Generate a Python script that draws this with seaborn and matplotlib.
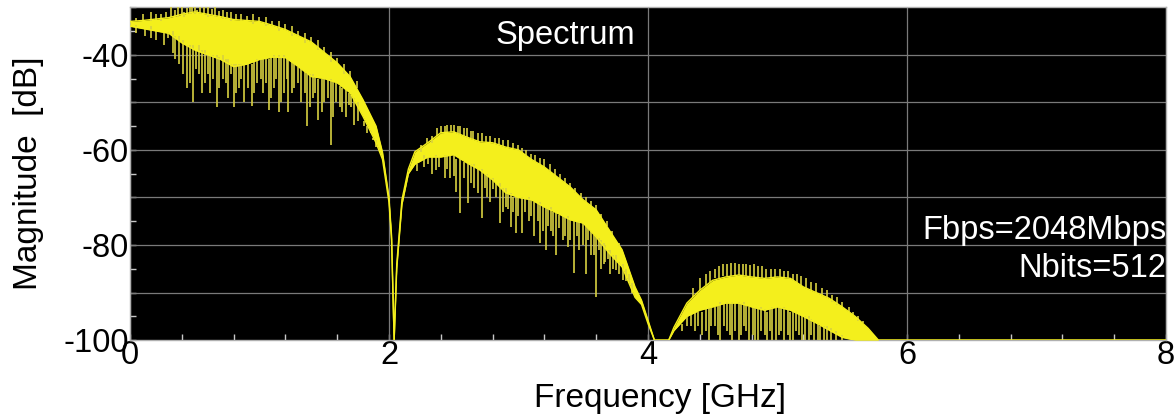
import numpy as np
import pandas as pd
import seaborn as sns
import matplotlib
matplotlib.use("Agg")
import matplotlib.pyplot as plt
from matplotlib.ticker import MultipleLocator

# ---- data (frequency in GHz, magnitude in dB) ----
band_freq = [0.0, 0.1, 0.2, 0.3, 0.4, 0.5, 0.6, 0.7, 0.8, 0.9, 1.0, 1.1, 1.2, 1.3,
             1.4, 1.5, 1.6, 1.7, 1.8, 1.9, 1.95, 2.0, 2.02, 2.04, 2.06, 2.1, 2.15,
             2.2, 2.3, 2.4, 2.5, 2.6, 2.7, 2.8, 2.9, 3.0, 3.1, 3.2, 3.3, 3.4, 3.5,
             3.6, 3.7, 3.8, 3.9, 3.95, 4.0, 4.05, 4.16, 4.2, 4.3, 4.4, 4.5, 4.6,
             4.7, 4.8, 4.9, 5.0, 5.1, 5.2, 5.3, 5.4, 5.5, 5.6, 5.7, 5.78, 8.0]
band_top = [-33.0, -32.8, -32.5, -32.2, -31.5, -31.0, -31.5, -32.0, -32.6, -32.8, -33.0,
            -33.8, -34.7, -36.0, -37.3, -39.5, -41.7, -44.6, -49.5, -55.0, -60.5, -70.0,
            -78.0, -100.0, -84.0, -70.5, -64.0, -60.4, -58.5, -56.4, -56.2, -57.3, -58.3,
            -58.5, -59.4, -60.0, -62.0, -63.6, -65.7, -67.8, -70.5, -72.6, -76.8, -81.0,
            -88.8, -91.6, -95.8, -100.0, -100.0, -97.3, -92.2, -89.5, -87.4, -86.7, -86.3,
            -86.7, -87.0, -86.7, -87.0, -88.8, -90.0, -91.2, -93.0, -95.0, -97.5, -100.0,
            -100.0]
band_bottom = [-34.0, -34.5, -35.0, -35.5, -37.5, -39.0, -40.0, -41.0, -42.5, -42.0, -41.0,
               -40.5, -40.6, -42.5, -44.6, -45.0, -45.9, -48.0, -53.0, -58.5, -62.0, -71.0,
               -79.0, -100.0, -85.0, -71.5, -65.0, -63.0, -61.5, -61.5, -61.0, -62.7, -64.2,
               -66.3, -69.0, -70.0, -70.5, -72.0, -73.3, -74.7, -75.4, -78.3, -81.7, -84.6,
               -91.0, -92.5, -96.5, -100.0, -100.0, -98.0, -95.0, -93.7, -93.0, -92.2, -92.2,
               -93.0, -93.7, -93.0, -93.7, -95.0, -96.4, -97.9, -99.4, -100.0, -100.0, -100.0,
               -100.0]

# downward spikes: frequency, deepest value, band value they leave from
dip_freq = [0.16, 0.33, 0.38, 0.46, 0.49, 0.53, 0.58, 0.62, 0.67, 0.72, 0.76, 0.80, 0.84,
            0.88, 0.94, 0.98, 1.03, 1.07, 1.11, 1.15, 1.19, 1.22, 1.27, 1.32, 1.37, 1.41,
            1.45, 1.50, 1.55, 1.59, 1.64, 1.69, 1.73, 1.76, 1.83, 1.86, 1.90,
            0.05, 0.12, 0.20, 0.26, 0.29, 0.35, 0.41, 0.44, 0.51, 0.56, 0.60, 0.64, 0.69,
            0.74, 0.78, 0.82, 0.86, 0.91, 0.96, 1.01, 1.05, 1.09, 1.13, 1.17, 1.21, 1.25,
            1.30, 1.35, 1.39, 1.43, 1.48, 1.53, 1.57, 1.62, 1.67, 1.71, 1.81, 1.88,
            2.27, 2.36, 2.43, 2.47, 2.52, 2.55, 2.61, 2.66, 2.72, 2.76, 2.80, 2.86, 2.90,
            2.94, 2.98, 3.03, 3.08, 3.12, 3.17, 3.21, 3.25, 3.29, 3.34, 3.38, 3.43, 3.47,
            3.52, 3.56, 3.60, 3.64, 3.67, 3.71, 3.75, 3.81, 3.85,
            2.22, 2.30, 2.33, 2.39, 2.45, 2.50, 2.58, 2.63, 2.69, 2.74, 2.78, 2.83, 2.88,
            2.92, 2.96, 3.00, 3.05, 3.10, 3.15, 3.19, 3.23, 3.27, 3.31, 3.36, 3.40, 3.45,
            3.50, 3.54, 3.58, 3.62, 3.66, 3.69, 3.73, 3.78, 3.83, 3.88,
            4.30, 4.36, 4.42, 4.47, 4.52, 4.56, 4.61, 4.65, 4.70, 4.74, 4.78, 4.83, 4.87,
            4.92, 4.96, 5.01, 5.05, 5.10, 5.14, 5.19, 5.24, 5.28, 5.33, 5.38, 5.45,
            4.26, 4.33, 4.39, 4.45, 4.49, 4.54, 4.59, 4.63, 4.67, 4.72, 4.76, 4.81, 4.85,
            4.90, 4.94, 4.99, 5.03, 5.08, 5.12, 5.17, 5.21, 5.26, 5.31, 5.36, 5.41, 5.50]
dip_low = [-36.5, -39.6, -42.0, -46.0, -50.0, -44.0, -46.0, -48.0, -51.0, -45.0, -49.0, -51.0,
           -47.0, -50.0, -50.7, -46.0, -48.0, -51.6, -47.0, -52.0, -48.0, -52.0, -47.0, -50.0,
           -55.0, -49.0, -53.7, -50.0, -59.0, -50.0, -52.0, -50.5, -54.7, -54.0, -56.5, -56.4,
           -59.4,
           -35.5, -36.0, -37.0, -38.0, -36.5, -41.0, -44.0, -47.0, -43.0, -48.0, -44.0, -45.0,
           -47.0, -46.0, -44.0, -48.0, -45.0, -47.0, -48.0, -45.0, -46.0, -49.0, -45.0, -50.0,
           -45.0, -48.0, -46.0, -48.0, -51.0, -48.0, -52.0, -49.0, -53.0, -51.0, -53.0, -51.0,
           -55.0, -58.0,
           -63.5, -64.2, -66.0, -66.0, -68.8, -73.3, -71.2, -68.0, -74.3, -70.0, -68.2, -75.4,
           -72.0, -76.2, -77.5, -77.5, -75.0, -78.2, -79.6, -81.0, -77.0, -82.0, -79.0, -80.5,
           -85.9, -81.0, -86.0, -82.0, -91.0, -85.0, -83.5, -86.0, -85.3, -87.4, -88.0,
           -64.5, -63.0, -65.0, -63.5, -64.0, -65.5, -66.0, -67.0, -69.0, -68.0, -71.0, -70.0,
           -73.0, -72.5, -73.0, -74.0, -73.0, -74.0, -75.0, -77.0, -76.0, -78.0, -76.5, -78.0,
           -79.0, -78.0, -80.0, -79.0, -82.0, -81.0, -84.0, -83.0, -85.0, -86.0, -87.5, -90.0,
           -97.0, -98.0, -99.0, -100.0, -97.0, -100.0, -98.0, -100.0, -100.0, -97.0, -100.0,
           -100.0, -98.0, -100.0, -100.0, -99.0, -100.0, -100.0, -98.0, -100.0, -100.0, -100.0,
           -100.0, -100.0, -100.0,
           -98.0, -97.0, -97.0, -98.0, -97.0, -99.0, -97.0, -99.0, -98.0, -99.0, -98.0, -99.0,
           -100.0, -99.0, -98.0, -100.0, -98.0, -99.0, -100.0, -99.0, -100.0, -99.0, -100.0,
           -100.0, -100.0, -100.0]
dip_from = [-34.0, -35.0, -36.0, -38.0, -38.0, -38.0, -39.0, -40.0, -40.0, -40.0, -41.0, -42.0,
            -42.0, -42.0, -42.0, -41.0, -41.0, -41.0, -40.0, -40.0, -40.0, -41.0, -42.0, -43.0,
            -44.0, -44.0, -45.0, -45.0, -45.0, -46.0, -47.0, -48.0, -49.0, -50.0, -55.0, -56.0,
            -58.0,
            -33.8, -34.5, -35.0, -35.2, -35.3, -36.0, -37.0, -38.0, -39.0, -39.0, -40.0, -40.0,
            -40.5, -41.0, -42.0, -42.0, -42.0, -42.0, -41.5, -41.0, -41.0, -40.5, -40.5, -40.5,
            -40.8, -41.5, -42.5, -43.5, -44.0, -44.8, -45.0, -45.3, -45.6, -46.5, -47.5, -48.5,
            -54.0, -57.5,
            -61.0, -61.0, -61.0, -61.0, -62.0, -62.0, -63.0, -63.0, -64.0, -65.0, -66.0, -67.0,
            -68.0, -69.0, -70.0, -70.0, -70.0, -71.0, -71.0, -72.0, -72.0, -73.0, -74.0, -74.0,
            -75.0, -75.0, -76.0, -77.0, -78.0, -79.0, -80.0, -81.0, -82.0, -84.0, -86.0,
            -63.0, -61.5, -61.5, -61.5, -61.0, -61.0, -62.5, -63.0, -64.0, -65.0, -66.0, -67.0,
            -68.0, -69.0, -70.0, -70.0, -70.3, -70.5, -71.2, -71.8, -72.3, -73.0, -73.6, -74.2,
            -74.8, -75.2, -75.4, -76.5, -77.8, -78.6, -79.5, -81.0, -82.0, -83.5, -85.0, -88.0,
            -95.0, -94.0, -94.0, -93.0, -93.0, -92.0, -92.0, -92.0, -92.0, -92.0, -93.0,
            -93.0, -93.0, -94.0, -93.0, -93.0, -93.0, -94.0, -94.0, -95.0, -95.0, -96.0,
            -97.0, -97.0, -98.0,
            -96.5, -94.5, -94.0, -93.3, -93.0, -92.8, -92.3, -92.2, -92.2, -92.2, -92.5, -93.0,
            -93.3, -93.5, -93.5, -93.0, -93.3, -93.5, -94.0, -94.5, -95.0, -95.5, -96.3,
            -97.0, -97.5, -99.0]

# upward spikes: frequency, highest value, band value they leave from
peak_freq = [0.10, 0.16, 0.24, 0.32, 0.37, 0.42, 0.46, 0.50, 0.54, 0.60, 0.66, 0.72, 0.78,
             0.86, 0.95, 1.05, 1.15, 1.25, 1.35, 1.45, 1.55, 1.65,
             0.05, 0.20, 0.28, 0.35, 0.40, 0.44, 0.48, 0.52, 0.57, 0.63, 0.69, 0.75, 0.82,
             0.90, 1.00, 1.10, 1.20, 1.30, 1.40, 1.50, 1.60, 1.70, 1.75,
             2.25, 2.33, 2.40, 2.45, 2.50, 2.55, 2.60, 2.65, 2.72, 2.78, 2.85, 2.92, 3.00,
             3.06, 3.13, 3.20, 3.28, 3.36, 3.44, 3.52, 3.60, 3.68,
             2.29, 2.37, 2.43, 2.48, 2.53, 2.58, 2.63, 2.69, 2.75, 2.82, 2.88, 2.96, 3.03,
             3.10, 3.17, 3.24, 3.32, 3.40, 3.48, 3.56, 3.64, 3.72, 3.78,
             4.35, 4.45, 4.52, 4.58, 4.64, 4.70, 4.76, 4.82, 4.88, 4.95, 5.02, 5.08, 5.15,
             5.22, 5.30, 5.38, 5.46, 5.55, 5.62,
             4.40, 4.48, 4.55, 4.61, 4.67, 4.73, 4.79, 4.85, 4.91, 4.98, 5.05, 5.12, 5.18,
             5.26, 5.34, 5.42, 5.50, 5.58, 5.66]
peak_high = [-31.5, -31.0, -31.5, -30.0, -30.0, -31.0, -30.0, -30.0, -30.0, -30.0, -30.0,
             -30.5, -31.0, -31.5, -31.5, -32.0, -33.0, -34.0, -35.5, -37.0, -39.5, -42.0,
             -32.2, -31.5, -31.0, -30.5, -30.0, -30.2, -30.0, -30.5, -30.0, -30.3, -30.8,
             -31.0, -31.5, -31.8, -32.0, -33.0, -33.5, -35.0, -36.2, -38.4, -40.6, -43.5,
             -45.5,
             -59.0, -57.0, -55.0, -54.7, -54.7, -55.0, -55.5, -56.0, -56.5, -57.0, -57.5,
             -58.0, -59.0, -60.0, -61.0, -62.0, -64.0, -66.0, -68.0, -70.0, -71.5, -75.0,
             -57.5, -55.5, -55.0, -54.8, -55.0, -55.5, -56.0, -56.5, -57.0, -57.5, -58.0,
             -58.5, -59.5, -60.8, -61.8, -63.0, -65.0, -67.0, -69.0, -70.8, -73.5, -77.0,
             -79.5,
             -89.0, -86.0, -85.0, -84.0, -83.8, -84.0, -84.0, -84.0, -84.5, -85.0, -85.0,
             -85.5, -86.0, -87.0, -88.0, -89.5, -91.0, -93.0, -95.0,
             -87.0, -85.5, -84.5, -84.0, -83.8, -84.0, -84.2, -84.5, -85.0, -85.0, -85.5,
             -86.0, -86.5, -87.8, -89.0, -90.5, -92.0, -94.0, -96.0]
peak_from = [-33.0, -33.0, -33.0, -32.0, -32.0, -32.0, -31.5, -31.5, -31.5, -32.0, -32.0,
             -32.5, -33.0, -33.0, -33.5, -34.0, -35.0, -36.0, -37.5, -39.0, -41.5, -44.0,
             -33.0, -32.6, -32.3, -32.0, -31.6, -31.5, -31.0, -31.0, -31.3, -31.7, -32.0,
             -32.4, -32.7, -32.8, -33.0, -33.8, -34.7, -36.0, -37.3, -39.5, -41.7, -44.6,
             -47.0,
             -60.5, -58.5, -56.5, -56.5, -56.5, -56.8, -57.3, -57.8, -58.3, -58.5, -59.0,
             -59.5, -60.0, -61.0, -62.5, -63.6, -65.3, -67.0, -69.0, -71.0, -72.6, -76.0,
             -58.6, -57.0, -56.4, -56.3, -56.5, -57.0, -57.6, -58.2, -58.4, -58.8, -59.2,
             -59.7, -60.6, -62.0, -63.1, -64.4, -66.1, -67.8, -69.9, -71.8, -74.5, -77.8,
             -80.2,
             -91.0, -88.5, -87.0, -86.5, -86.5, -86.3, -86.5, -86.7, -87.0, -87.0, -86.7,
             -87.0, -88.0, -89.0, -90.0, -91.0, -92.5, -94.0, -96.0,
             -89.5, -87.8, -87.0, -86.6, -86.4, -86.4, -86.6, -86.8, -87.0, -86.8, -86.8,
             -87.5, -88.4, -89.4, -90.6, -91.9, -93.0, -94.8, -96.3]

x_ticks = [0, 2, 4, 6, 8]
y_ticks = [-100, -80, -60, -40]

# ---- figure ----
sns.set_theme(style="dark")
plt.rcParams['font.family'] = ['Liberation Sans', 'DejaVu Sans']
plt.rcParams['text.color'] = 'black'
plt.rcParams['axes.labelcolor'] = 'black'

fig = plt.figure(figsize=(11.76, 4.2), dpi=100, facecolor='white')
ax = fig.add_axes([0.1105, 0.19, 0.881, 0.793])
ax.set_facecolor('black')

yellow = '#f4ef1c'
spike_col = '#d8d040'

band = pd.DataFrame({'f': band_freq, 'top': band_top, 'bottom': band_bottom})
ax.fill_between(band['f'], band['bottom'], band['top'], color=yellow, lw=0, zorder=3)
sns.lineplot(data=band, x='f', y='top', ax=ax, color=yellow, lw=1.0, zorder=4, sort=False)
sns.lineplot(data=band, x='f', y='bottom', ax=ax, color=yellow, lw=1.0, zorder=4, sort=False)

ax.vlines(dip_freq, dip_low, dip_from, color=spike_col, lw=1.2, zorder=3.5)
ax.vlines(peak_freq, peak_from, peak_high, color=spike_col, lw=1.2, zorder=3.5)

ax.set_xlim(0, 8)
ax.set_ylim(-100, -30)

ax.set_xticks(x_ticks)
ax.set_yticks(y_ticks)
ax.xaxis.set_minor_locator(MultipleLocator(0.4))
ax.yaxis.set_minor_locator(MultipleLocator(5))
ax.set_xticklabels([str(v) for v in x_ticks], fontsize=23.5)
ax.set_yticklabels([str(v) for v in y_ticks], fontsize=23.5)

# grid: vertical at labelled x ticks, horizontal every 10 dB
ax.grid(False)
for xv in x_ticks:
    ax.axvline(xv, color='#7a7a7a', lw=0.9, zorder=1)
for yv in [-90, -80, -70, -60, -50, -40]:
    ax.axhline(yv, color='#7a7a7a', lw=0.9, zorder=1)

ax.tick_params(axis='both', which='major', direction='in', length=4, width=1,
               color='#c8c8c8', labelcolor='black')
ax.tick_params(axis='both', which='minor', direction='in', length=4, width=1,
               color='#c8c8c8')
ax.tick_params(axis='y', which='major', pad=1)
ax.tick_params(axis='x', which='major', pad=0)
ax.xaxis.set_ticks_position('bottom')
ax.yaxis.set_ticks_position('left')

for side, sp in ax.spines.items():
    sp.set_visible(True)
    sp.set_color('#b0b0b0')
    sp.set_linewidth(1)

ax.set_xlabel('Frequency [GHz]', fontsize=24, color='black')
ax.set_ylabel('Magnitude  [dB]', fontsize=24, color='black')
ax.xaxis.set_label_coords(0.512, -0.13)
ax.yaxis.set_label_coords(-0.083, 0.5)

ax.text(0.42, 0.915, 'Spectrum', transform=ax.transAxes, color='white',
        fontsize=23.5, ha='center', va='center', zorder=6)
ax.text(1.0, 0.33, 'Fbps=2048Mbps', transform=ax.transAxes, color='white',
        fontsize=23.5, ha='right', va='center', zorder=6)
ax.text(1.0, 0.215, 'Nbits=512', transform=ax.transAxes, color='white',
        fontsize=23.5, ha='right', va='center', zorder=6)

fig.savefig('out.png', dpi=100, facecolor='white')
